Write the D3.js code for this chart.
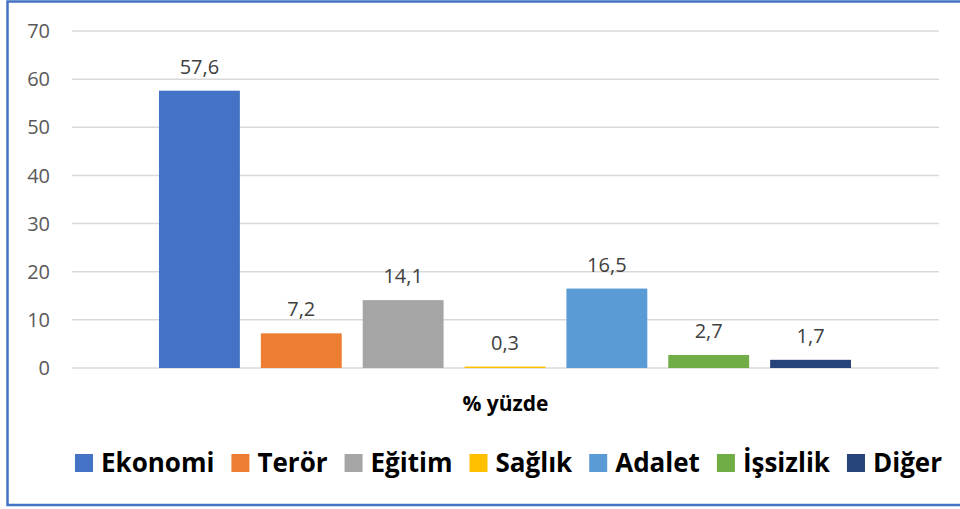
<!DOCTYPE html>
<html>
<head>
<meta charset="utf-8">
<script src="https://cdn.jsdelivr.net/npm/d3@7"></script>
<style>
  body { margin: 0; background: #fff; }
  svg { display: block; font-family: "Open Sans", sans-serif; }
</style>
</head>
<body>
<div id="chart"></div>
<script>
// data
const series = ["Ekonomi", "Terör", "Eğitim", "Sağlık", "Adalet", "İşsizlik", "Diğer"];
const values = [57.6, 7.2, 14.1, 0.3, 16.5, 2.7, 1.7];
const colors = ["#4472C4", "#ED7D31", "#A5A5A5", "#FFC000", "#5B9BD5", "#70AD47", "#264478"];
const yTicks = [0, 10, 20, 30, 40, 50, 60, 70];
const categoryLabel = "% yüzde";

const width = 960, height = 509;

const svg = d3.select("#chart").append("svg")
  .attr("width", width)
  .attr("height", height);

// outer frame
svg.append("rect")
  .attr("x", 7.5).attr("y", 1.5)
  .attr("width", 962).attr("height", 503.5)
  .attr("fill", "none")
  .attr("stroke", "#4472C4")
  .attr("stroke-width", 2.5);

const plot = { left: 72, right: 939, top: 31, bottom: 368 };

const y = d3.scaleLinear().domain([0, 70]).range([plot.bottom, plot.top]);

// one category group, centered in plot; one band per series
const x = d3.scaleBand()
  .domain(series)
  .range([148.5, 861.5])
  .paddingInner(0.206)
  .paddingOuter(0.103);

// gridlines
svg.append("g")
  .selectAll("line")
  .data(yTicks)
  .join("line")
  .attr("x1", plot.left).attr("x2", plot.right)
  .attr("y1", d => y(d)).attr("y2", d => y(d))
  .attr("stroke", "#D9D9D9")
  .attr("stroke-width", 1.5);

// y axis labels
svg.append("g")
  .selectAll("text")
  .data(yTicks)
  .join("text")
  .attr("x", 50)
  .attr("y", d => y(d))
  .attr("dy", "0.36em")
  .attr("text-anchor", "end")
  .attr("font-size", 20)
  .attr("fill", "#595959")
  .text(d => d);

// bars
svg.append("g")
  .selectAll("rect")
  .data(series)
  .join("rect")
  .attr("x", d => x(d))
  .attr("width", x.bandwidth())
  .attr("y", (d, i) => y(values[i]))
  .attr("height", (d, i) => y(0) - y(values[i]))
  .attr("fill", (d, i) => colors[i]);

// value labels
svg.append("g")
  .selectAll("text")
  .data(series)
  .join("text")
  .attr("x", d => x(d) + x.bandwidth() / 2)
  .attr("y", (d, i) => y(values[i]) - 17)
  .attr("text-anchor", "middle")
  .attr("font-size", 20)
  .attr("fill", "#404040")
  .text((d, i) => String(values[i]).replace(".", ","));

// category label
svg.append("text")
  .attr("x", (plot.left + plot.right) / 2)
  .attr("y", 411)
  .attr("text-anchor", "middle")
  .attr("font-size", 21)
  .attr("font-weight", "bold")
  .attr("fill", "#000")
  .text(categoryLabel);

// legend
const legend = svg.append("g");
const sw = 18, gapText = 8, gapItem = 17;
const items = legend.selectAll("g")
  .data(series)
  .join("g");
items.append("rect")
  .attr("width", sw).attr("height", sw)
  .attr("y", 454)
  .attr("fill", (d, i) => colors[i]);
items.append("text")
  .attr("x", sw + gapText)
  .attr("y", 472)
  .attr("font-size", 26)
  .attr("font-weight", "bold")
  .attr("fill", "#000")
  .text(d => d);

let cx = 0;
const offsets = [];
items.each(function () {
  const w = d3.select(this).select("text").node().getComputedTextLength();
  offsets.push(cx);
  cx += sw + gapText + w + gapItem;
});
const total = cx - gapItem;
const startX = 508.5 - total / 2;
items.attr("transform", (d, i) => `translate(${startX + offsets[i]},0)`);
</script>
</body>
</html>
